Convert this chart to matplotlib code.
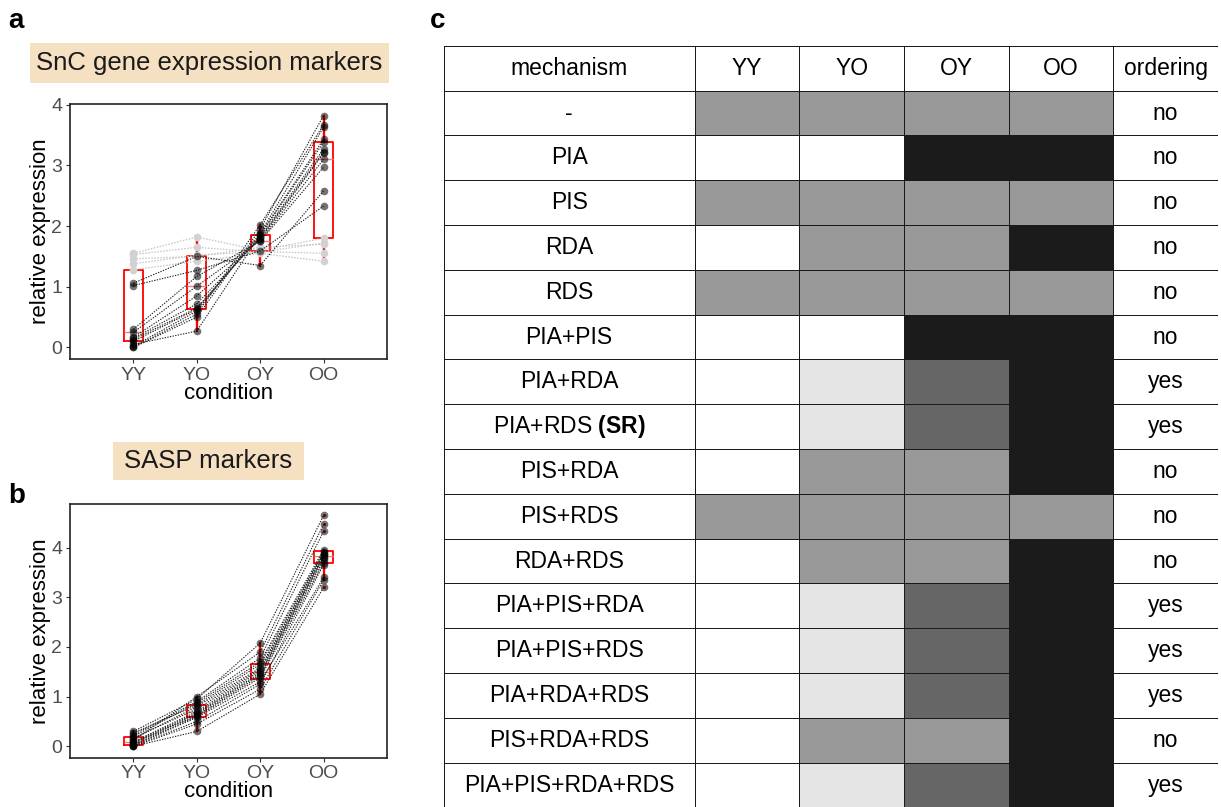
import numpy as np
import matplotlib
matplotlib.use('Agg')
import matplotlib.pyplot as plt
from matplotlib.colors import ListedColormap
from matplotlib.patches import Rectangle

plt.rcParams['font.family'] = ['Liberation Sans', 'DejaVu Sans']
plt.rcParams['mathtext.fontset'] = 'custom'
plt.rcParams['mathtext.rm'] = 'Liberation Sans'
plt.rcParams['mathtext.bf'] = 'Liberation Sans:bold'

conditions = ['YY', 'YO', 'OY', 'OO']

# panel a: SnC markers, one row per gene -> YY, YO, OY, OO
snc_dark = [
    [0.00, 0.50, 1.95, 3.82],
    [0.00, 0.55, 2.02, 3.67],
    [0.02, 0.60, 1.88, 3.63],
    [0.05, 0.27, 1.86, 3.43],
    [0.10, 0.63, 1.85, 3.38],
    [0.13, 0.65, 1.82, 3.27],
    [0.15, 0.72, 1.80, 3.22],
    [0.17, 0.85, 1.78, 3.20],
    [0.25, 1.01, 1.76, 3.10],
    [0.30, 1.17, 1.75, 2.97],
    [1.02, 1.27, 1.59, 2.33],
    [1.06, 1.50, 1.35, 2.58],
]
snc_light = [
    [1.55, 1.82, 1.60, 1.80],
    [1.53, 1.65, 1.57, 1.72],
    [1.46, 1.50, 1.65, 1.70],
    [1.38, 1.52, 1.58, 1.55],
    [1.28, 1.42, 1.55, 1.42],
]

# panel b: SASP markers
sasp = [
    [0.12, 1.00, 1.90, 4.47],
    [0.30, 0.95, 2.08, 4.65],
    [0.23, 0.90, 1.78, 4.33],
    [0.20, 0.87, 1.70, 3.96],
    [0.27, 0.83, 1.65, 3.92],
    [0.15, 0.80, 1.58, 3.90],
    [0.17, 0.75, 1.55, 3.88],
    [0.09, 0.70, 1.52, 3.85],
    [0.08, 0.67, 1.48, 3.82],
    [0.05, 0.65, 1.45, 3.80],
    [0.07, 0.62, 1.42, 3.75],
    [0.03, 0.60, 1.38, 3.69],
    [0.02, 0.58, 1.30, 3.40],
    [0.01, 0.50, 1.25, 3.66],
    [0.00, 0.45, 1.15, 3.35],
    [0.00, 0.30, 1.05, 3.20],
]

# panel c table
mechanisms = ['-', 'PIA', 'PIS', 'RDA', 'RDS', 'PIA+PIS', 'PIA+RDA',
              'PIA+RDS $\\mathbf{(SR)}$', 'PIS+RDA', 'PIS+RDS', 'RDA+RDS',
              'PIA+PIS+RDA', 'PIA+PIS+RDS', 'PIA+RDA+RDS', 'PIS+RDA+RDS',
              'PIA+PIS+RDA+RDS']
shade = [
    [2, 2, 2, 2], [0, 0, 4, 4], [2, 2, 2, 2], [0, 2, 2, 4],
    [2, 2, 2, 2], [0, 0, 4, 4], [0, 1, 3, 4], [0, 1, 3, 4],
    [0, 2, 2, 4], [2, 2, 2, 2], [0, 2, 2, 4], [0, 1, 3, 4],
    [0, 1, 3, 4], [0, 1, 3, 4], [0, 2, 2, 4], [0, 1, 3, 4],
]
ordering = ['no', 'no', 'no', 'no', 'no', 'no', 'yes', 'yes', 'no', 'no',
            'no', 'yes', 'yes', 'yes', 'no', 'yes']
shade_colors = ['white', '#e5e5e5', '#999999', '#666666', '#1b1b1b']

W, H = 1221, 807
fig = plt.figure(figsize=(W / 100, H / 100), dpi=100)


def px_axes(x0, y0, x1, y1):
    return fig.add_axes([x0 / W, 1 - y1 / H, (x1 - x0) / W, (y1 - y0) / H])


def expr_panel(ax, dark, light, ylim):
    xs = np.arange(1, 5)
    allv = np.array(dark + light)
    ax.boxplot([allv[:, i] for i in range(4)], positions=xs, widths=0.3,
               showcaps=False, manage_ticks=False,
               boxprops=dict(color='red', lw=1.3),
               whiskerprops=dict(color='red', lw=1.7),
               medianprops=dict(color='#f08080', lw=1.0),
               flierprops=dict(marker='o', markersize=2.2, markerfacecolor='red',
                               markeredgecolor='none'))
    for row in light:
        ax.plot(xs, row, ls=(0, (1.2, 1.2)), color='#c4c4c4', lw=0.9,
                marker='o', ms=5.5, mfc='#d2d2d2', mec='none', zorder=3)
    for row in dark:
        ax.plot(xs, row, ls=(0, (1.2, 1.2)), color='#222222', lw=0.8,
                marker='o', ms=5.5, mfc=(0, 0, 0, 0.55), mec='none', zorder=4)
    ax.set_xlim(0, 5)
    ax.set_ylim(*ylim)
    ax.set_xticks(xs)
    ax.set_xticklabels(conditions)
    ax.set_yticks(range(5))
    ax.tick_params(direction='out', length=3, width=0.8, color='#333333',
                   labelcolor='#4d4d4d', labelsize=14, pad=2.5)
    for s in ax.spines.values():
        s.set_color('#222222')
        s.set_linewidth(1.2)
    ax.set_xlabel('condition', fontsize=16)
    ax.set_ylabel('relative expression', fontsize=16)
    ax.yaxis.set_label_coords(-0.06, 0.5)
    ax.xaxis.set_label_coords(0.5, -0.093)


ax_a = px_axes(70, 104, 387, 359)
expr_panel(ax_a, snc_dark, snc_light, (-0.19, 4.01))

ax_b = px_axes(70, 504, 387, 757.7)
expr_panel(ax_b, sasp, [], (-0.23, 4.88))


def title_box(x0, y0, x1, y1, text):
    fig.patches.append(Rectangle((x0 / W, 1 - y1 / H), (x1 - x0) / W, (y1 - y0) / H,
                                 transform=fig.transFigure, facecolor='#f6e0c2',
                                 edgecolor='none', zorder=0))
    fig.text((x0 + x1) / 2 / W, 1 - (y0 + y1) / 2 / H, text, fontsize=18.5,
             ha='center', va='center', color='#1a1a1a')


title_box(30, 43, 389, 83, 'SnC gene expression markers')
title_box(113, 442, 304, 480, 'SASP markers')

for letter, x, y in [('a', 16, 21), ('b', 17, 496), ('c', 438, 21)]:
    fig.text(x / W, 1 - y / H, letter, fontsize=20, fontweight='bold',
             ha='center', va='center')

# table
ax_t = px_axes(443.5, 45.9, 1218, 807.5)
col_w = [2.4, 1, 1, 1, 1, 1]
xedges = np.concatenate([[0], np.cumsum(col_w)])
nrow = len(mechanisms) + 1
Z = np.zeros((nrow, len(col_w)))
Z[1:, 1:5] = np.array(shade)
ax_t.pcolormesh(xedges, np.arange(nrow + 1), Z, cmap=ListedColormap(shade_colors),
                vmin=-0.5, vmax=4.5, edgecolors='#1a1a1a', linewidth=0.7)
ax_t.set_xlim(xedges[0], xedges[-1])
ax_t.set_ylim(nrow, 0)
ax_t.axis('off')

xc = (xedges[:-1] + xedges[1:]) / 2
header = ['mechanism'] + conditions + ['ordering']
for j, h in enumerate(header):
    ax_t.text(xc[j], 0.5, h, ha='center', va='center', fontsize=16.5)
for i, (m, o) in enumerate(zip(mechanisms, ordering)):
    ax_t.text(xc[0], i + 1.5, m, ha='center', va='center', fontsize=16.5)
    ax_t.text(xc[-1], i + 1.5, o, ha='center', va='center', fontsize=16.5)

fig.savefig('out.png', dpi=100)
